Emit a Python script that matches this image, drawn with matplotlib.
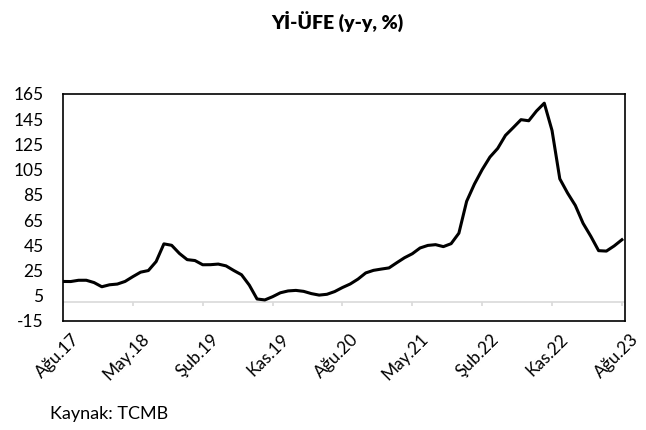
import numpy as np
import matplotlib.pyplot as plt
from matplotlib.transforms import ScaledTranslation

plt.rcParams['font.family'] = ['Lato', 'DejaVu Sans']

# Yİ-ÜFE yıllık değişim, Ağu.17 - Ağu.23
values = [16.34, 16.28, 17.28, 17.30, 15.47,
          12.14, 13.71, 14.28, 16.37, 20.16, 23.71, 25.00, 32.13, 46.15, 45.01, 38.54, 33.64,
          32.93, 29.59, 29.64, 30.12, 28.71, 25.04, 21.66, 13.45, 2.45, 1.70, 4.26, 7.36,
          8.84, 9.26, 8.50, 6.71, 5.53, 6.17, 8.33, 11.53, 14.33, 18.20, 23.11, 25.15,
          26.16, 27.09, 31.20, 35.17, 38.33, 42.89, 44.92, 45.52, 43.96, 46.31, 54.62, 79.89,
          93.53, 105.01, 114.97, 121.82, 132.16, 138.31, 144.61, 143.75, 151.50, 157.69, 136.02, 97.72,
          86.46, 76.61, 62.43, 52.11, 40.76, 40.42, 44.50, 49.41]
tick_idx = [0, 9, 18, 27, 36, 45, 54, 63, 72]
tick_labels = ['Ağu.17', 'May.18', 'Şub.19', 'Kas.19', 'Ağu.20',
               'May.21', 'Şub.22', 'Kas.22', 'Ağu.23']
y_ticks = list(range(-15, 166, 20))

x = np.arange(len(values))

fig = plt.figure(figsize=(6.46, 4.30), dpi=100)
ax = fig.add_axes([0.0975, 0.2535, 0.87, 0.528])

ax.axhline(0, color='#d9d9d9', lw=1.2, zorder=1)
ax.vlines(tick_idx, -3.5, 0, color='#d9d9d9', lw=1.2, zorder=1)
ax.plot(x, values, color='black', lw=2.2, zorder=3)

ax.set_xlim(0, 72.4)
ax.set_ylim(-15, 165)
ax.set_yticks(y_ticks)
ax.set_yticklabels([str(v) for v in y_ticks], fontsize=12.5)
ax.set_xticks(tick_idx)
ax.set_xticklabels(tick_labels, rotation=45, ha='right', rotation_mode='anchor', fontsize=12.5)
ax.tick_params(axis='both', length=0)
ax.tick_params(axis='y', pad=14)
ax.tick_params(axis='x', pad=7)
# etiketleri biraz sağa kaydır
off = ScaledTranslation(8 / 100, 0, fig.dpi_scale_trans)
for lab in ax.get_xticklabels():
    lab.set_transform(lab.get_transform() + off)
for s in ax.spines.values():
    s.set_color('black')
    s.set_linewidth(1.2)

fig.text(0.523, 0.95, 'Yİ-ÜFE (y-y, %)', ha='center', va='center', fontsize=14, fontweight='heavy')
fig.text(0.077, 0.038, 'Kaynak: TCMB', ha='left', va='center', fontsize=13)

fig.savefig('out.png', dpi=100)
